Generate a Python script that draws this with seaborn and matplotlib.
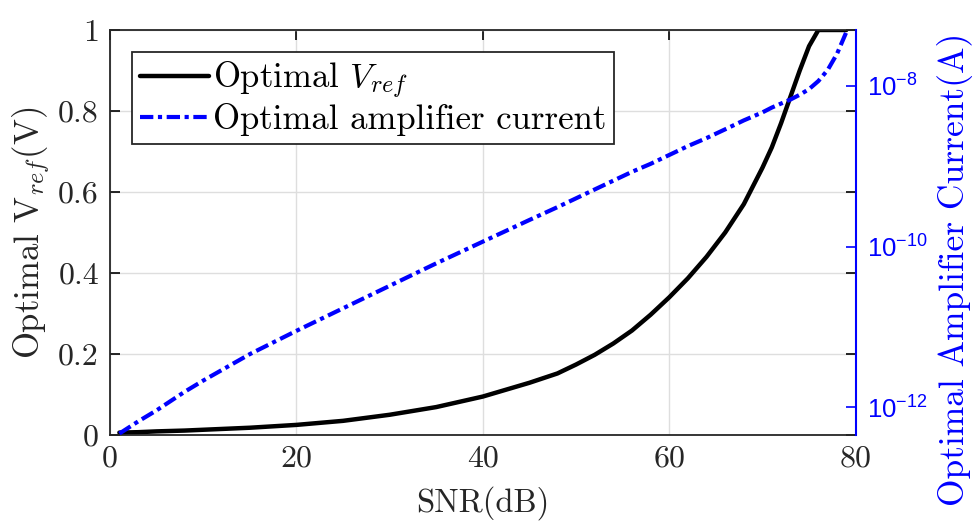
import matplotlib
matplotlib.use("Agg")
import matplotlib.pyplot as plt
from matplotlib.lines import Line2D
from matplotlib.ticker import FixedLocator, FixedFormatter, NullLocator
import seaborn as sns
import pandas as pd

# SNR sweep (dB)
snr_db = [1, 3, 5, 8, 10, 15, 20, 25, 30, 35, 40, 45, 48, 50, 52, 54, 56, 58,
          60, 62, 64, 66, 68, 70, 71, 72, 73, 74, 75, 76, 77, 78, 79]
# Optimal reference voltage (V)
vref_opt = [0.006, 0.007, 0.009, 0.011, 0.013, 0.018, 0.025, 0.035, 0.050,
            0.069, 0.095, 0.129, 0.152, 0.174, 0.198, 0.226, 0.258, 0.297,
            0.340, 0.387, 0.44, 0.50, 0.57, 0.66, 0.71, 0.77, 0.835, 0.90,
            0.96, 1.0, 1.0, 1.0, 1.0]
# Optimal amplifier current (A)
amp_current = [4.68e-13, 6.61e-13, 9.12e-13, 1.55e-12, 2.14e-12, 4.57e-12,
               8.91e-12, 1.70e-11, 3.24e-11, 6.17e-11, 1.15e-10, 2.14e-10,
               3.09e-10, 3.98e-10, 5.13e-10, 6.61e-10, 8.51e-10, 1.07e-9,
               1.38e-9, 1.78e-9, 2.24e-9, 2.88e-9, 3.72e-9, 4.68e-9, 5.37e-9,
               6.03e-9, 6.76e-9, 7.76e-9, 9.12e-9, 1.15e-8, 1.58e-8, 2.51e-8,
               4.68e-8]

x_ticks = [0, 20, 40, 60, 80]
v_ticks = [0, 0.2, 0.4, 0.6, 0.8, 1]
v_tick_labels = ["0", "0.2", "0.4", "0.6", "0.8", "1"]
i_ticks = [1e-12, 1e-10, 1e-8]
i_tick_labels = [r"$\mathsf{10^{-12}}$", r"$\mathsf{10^{-10}}$", r"$\mathsf{10^{-8}}$"]

df = pd.DataFrame({"snr": snr_db, "vref": vref_opt, "current": amp_current})

sns.set_style("white")
plt.rcParams["font.family"] = ["cmr10", "DejaVu Serif"]
plt.rcParams["mathtext.fontset"] = "custom"
plt.rcParams["mathtext.rm"] = "cmr10"
plt.rcParams["mathtext.it"] = "cmmi10"
plt.rcParams["mathtext.sf"] = "Liberation Sans"
plt.rcParams["axes.unicode_minus"] = False

TXT = "#262626"
BLUE = "#0000ff"
DASHDOT = (0, (3.2, 1.1, 1.0, 1.1))

fig = plt.figure(figsize=(9.73, 5.28), dpi=100)
ax = fig.add_axes([0.1131, 0.1761, 0.7663, 0.7671])
ax2 = ax.twinx()

sns.lineplot(data=df, x="snr", y="vref", ax=ax, color="black", lw=3.2,
             legend=False)
sns.lineplot(data=df, x="snr", y="current", ax=ax2, color=BLUE, lw=3.0,
             linestyle=DASHDOT, legend=False)

ax.set_xlim(0, 80)
ax.set_ylim(0, 1)
ax.set_xticks(x_ticks)
ax.set_yticks(v_ticks)
ax.set_yticklabels(v_tick_labels)
ax.grid(True, color="#dedede", lw=1.0)
ax.set_axisbelow(True)
ax.tick_params(axis="both", direction="in", length=7, width=1.2,
               labelsize=23, colors="black", labelcolor=TXT,
               top=True, right=True, pad=7)
ax.tick_params(axis="y", pad=8)
ax.set_xlabel("SNR(dB)", fontsize=23.5, color=TXT, labelpad=10)
ax.set_ylabel(r"Optimal V$_{ref}$(V)", fontsize=25, color=TXT, labelpad=4)
for side in ["left", "bottom", "top"]:
    ax.spines[side].set_color("#262626")
    ax.spines[side].set_linewidth(1.3)
ax.spines["right"].set_visible(False)

ax2.set_yscale("log")
ax2.set_ylim(4.49e-13, 4.97e-8)
ax2.yaxis.set_major_locator(FixedLocator(i_ticks))
ax2.yaxis.set_major_formatter(FixedFormatter(i_tick_labels))
ax2.yaxis.set_minor_locator(NullLocator())
ax2.tick_params(axis="y", direction="in", length=7, width=1.2,
                labelsize=18.5, colors=BLUE, labelcolor=BLUE, pad=8)
ax2.set_ylabel("Optimal Amplifier Current(A)", fontsize=25.5, color=BLUE)
ax2.yaxis.label.set_horizontalalignment("center")
ax2.yaxis.label.set_verticalalignment("center")
ax2.yaxis.set_label_coords(1.133, 0.41)
for side in ["left", "bottom", "top"]:
    ax2.spines[side].set_visible(False)
ax2.spines["right"].set_color(BLUE)
ax2.spines["right"].set_linewidth(1.5)
ax2.grid(False)

handles = [
    Line2D([], [], color="black", lw=3.2),
    Line2D([], [], color=BLUE, lw=3.0, linestyle=DASHDOT),
]
labels = [r"Optimal $V_{ref}$", "Optimal amplifier current"]
leg = ax2.legend(handles, labels, loc="upper left",
                 bbox_to_anchor=(132 / 973, 1 - 52 / 528),
                 bbox_transform=fig.transFigure, fontsize=25,
                 frameon=True, fancybox=False, framealpha=1,
                 edgecolor="#262626", handlelength=2.0, handletextpad=0.1,
                 borderpad=0.22, labelspacing=0.08, borderaxespad=0)
leg.get_frame().set_linewidth(1.3)
for t in leg.get_texts():
    t.set_color("black")

fig.savefig("out.png", dpi=100, facecolor="white")
